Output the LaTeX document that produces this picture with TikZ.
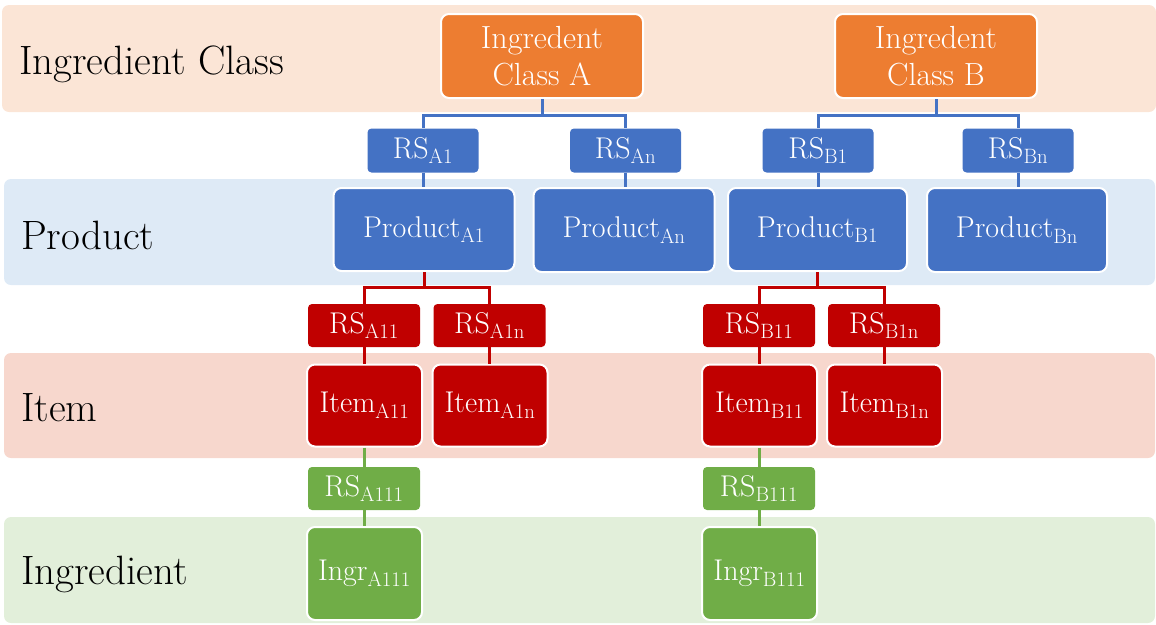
\documentclass[tikz,border=0pt]{standalone}
\begin{document}
\definecolor{cOrange}{HTML}{ED7D31}
\definecolor{cBlue}{HTML}{4472C4}
\definecolor{cRed}{HTML}{C00000}
\definecolor{cGreen}{HTML}{70AD47}
\definecolor{bandOrange}{HTML}{FBE5D6}
\definecolor{bandBlue}{HTML}{DEEAF6}
\definecolor{bandRed}{HTML}{F7D7CD}
\definecolor{bandGreen}{HTML}{E2EFDA}
\tikzset{
  bigbox/.style={rectangle, rounded corners=8pt, draw=white, line width=2pt,
    text=white, inner sep=0pt, align=center, font=\fontsize{30}{36}\selectfont},
  classbox/.style={bigbox, fill=cOrange, minimum width=202pt, minimum height=84pt,
    font=\fontsize{32}{37}\selectfont},
  rsbox/.style={rectangle, rounded corners=4pt, text=white, inner sep=0pt,
    align=center, font=\fontsize{30}{36}\selectfont},
  bandlabel/.style={anchor=west, inner sep=0pt, text=black,
    font=\fontsize{41}{46}\selectfont},
  link/.style={line width=3pt},
}
\begin{tikzpicture}[x=1pt, y=-1pt]
\useasboundingbox (0,0) rectangle (1156,624);
% level bands
\fill[bandOrange, rounded corners=7pt] (2,5) rectangle (1156,112);
\fill[bandBlue, rounded corners=7pt] (4,179) rectangle (1155,285);
\fill[bandRed, rounded corners=7pt] (4,353) rectangle (1155,458);
\fill[bandGreen, rounded corners=7pt] (4,517) rectangle (1155,623);
\node[bandlabel] (lClass) at (19,64) {Ingredient Class};
\node[bandlabel] (lProd) at (21,235) {Product};
\node[bandlabel] (lItem) at (21,408) {Item};
\node[bandlabel] (lIngr) at (21,574) {Ingredient};
% ingredient classes
\node[classbox] (clsA) at (542,56) {Ingredent\\Class A};
\node[classbox] (clsB) at (936,56) {Ingredent\\Class B};
% class-to-product relations
\node[rsbox, fill=cBlue, minimum width=111pt, minimum height=44pt] (rsA1) at (423,150.5) {RS$_{\mathrm{A1}}$};
\node[rsbox, fill=cBlue, minimum width=111pt, minimum height=44pt] (rsAn) at (625.5,150.5) {RS$_{\mathrm{An}}$};
\node[rsbox, fill=cBlue, minimum width=111pt, minimum height=44pt] (rsB1) at (818,150.5) {RS$_{\mathrm{B1}}$};
\node[rsbox, fill=cBlue, minimum width=111pt, minimum height=44pt] (rsBn) at (1018,150.5) {RS$_{\mathrm{Bn}}$};
% products
\node[bigbox, fill=cBlue, minimum width=181pt, minimum height=83pt] (prA1) at (424,229.5) {Product$_{\mathrm{A1}}$};
\node[bigbox, fill=cBlue, minimum width=181pt, minimum height=84pt] (prAn) at (624,230) {Product$_{\mathrm{An}}$};
\node[bigbox, fill=cBlue, minimum width=179pt, minimum height=83pt] (prB1) at (817.5,229.5) {Product$_{\mathrm{B1}}$};
\node[bigbox, fill=cBlue, minimum width=180pt, minimum height=84pt] (prBn) at (1017,230) {Product$_{\mathrm{Bn}}$};
% product-to-item relations
\node[rsbox, fill=cRed, minimum width=112pt, minimum height=43pt] (rsA11) at (364,325.5) {RS$_{\mathrm{A11}}$};
\node[rsbox, fill=cRed, minimum width=112pt, minimum height=43pt] (rsA1n) at (489.5,325.5) {RS$_{\mathrm{A1n}}$};
\node[rsbox, fill=cRed, minimum width=112pt, minimum height=43pt] (rsB11) at (759,325.5) {RS$_{\mathrm{B11}}$};
\node[rsbox, fill=cRed, minimum width=112pt, minimum height=43pt] (rsB1n) at (884,325.5) {RS$_{\mathrm{B1n}}$};
% items
\node[bigbox, fill=cRed, minimum width=115pt, minimum height=82pt] (itA11) at (364.5,405.5) {Item$_{\mathrm{A11}}$};
\node[bigbox, fill=cRed, minimum width=115pt, minimum height=82pt] (itA1n) at (490,405.5) {Item$_{\mathrm{A1n}}$};
\node[bigbox, fill=cRed, minimum width=115pt, minimum height=82pt] (itB11) at (759.5,405.5) {Item$_{\mathrm{B11}}$};
\node[bigbox, fill=cRed, minimum width=115pt, minimum height=82pt] (itB1n) at (884.5,405.5) {Item$_{\mathrm{B1n}}$};
% item-to-ingredient relations
\node[rsbox, fill=cGreen, minimum width=112pt, minimum height=43pt] (rsA111) at (364,488.5) {RS$_{\mathrm{A111}}$};
\node[rsbox, fill=cGreen, minimum width=112pt, minimum height=43pt] (rsB111) at (759,488.5) {RS$_{\mathrm{B111}}$};
% ingredients
\node[bigbox, fill=cGreen, minimum width=115pt, minimum height=93pt] (inA111) at (364.5,573.5) {Ingr$_{\mathrm{A111}}$};
\node[bigbox, fill=cGreen, minimum width=115pt, minimum height=93pt] (inB111) at (759.5,573.5) {Ingr$_{\mathrm{B111}}$};
% connectors
\draw[link, cBlue] (clsA.south) -- ++(0,16.5) -| (rsA1.north);
\draw[link, cBlue] (clsA.south) -- ++(0,16.5) -| (rsAn.north);
\draw[link, cBlue] (clsB.south) -- ++(0,16.5) -| (rsB1.north);
\draw[link, cBlue] (clsB.south) -- ++(0,16.5) -| (rsBn.north);
\draw[link, cBlue] (rsA1.south) -- (rsA1.south |- prA1.north);
\draw[link, cBlue] (rsAn.south) -- (rsAn.south |- prAn.north);
\draw[link, cBlue] (rsB1.south) -- (rsB1.south |- prB1.north);
\draw[link, cBlue] (rsBn.south) -- (rsBn.south |- prBn.north);
\draw[link, cRed] (prA1.south) -- ++(0,15) -| (rsA11.north);
\draw[link, cRed] (prA1.south) -- ++(0,15) -| (rsA1n.north);
\draw[link, cRed] (prB1.south) -- ++(0,15) -| (rsB11.north);
\draw[link, cRed] (prB1.south) -- ++(0,15) -| (rsB1n.north);
\draw[link, cRed] (rsA11.south) -- (rsA11.south |- itA11.north);
\draw[link, cRed] (rsA1n.south) -- (rsA1n.south |- itA1n.north);
\draw[link, cRed] (rsB11.south) -- (rsB11.south |- itB11.north);
\draw[link, cRed] (rsB1n.south) -- (rsB1n.south |- itB1n.north);
\draw[link, cGreen] (itA11.south) -- (itA11.south |- rsA111.north);
\draw[link, cGreen] (itB11.south) -- (itB11.south |- rsB111.north);
\draw[link, cGreen] (rsA111.south) -- (rsA111.south |- inA111.north);
\draw[link, cGreen] (rsB111.south) -- (rsB111.south |- inB111.north);
\end{tikzpicture}
\end{document}
